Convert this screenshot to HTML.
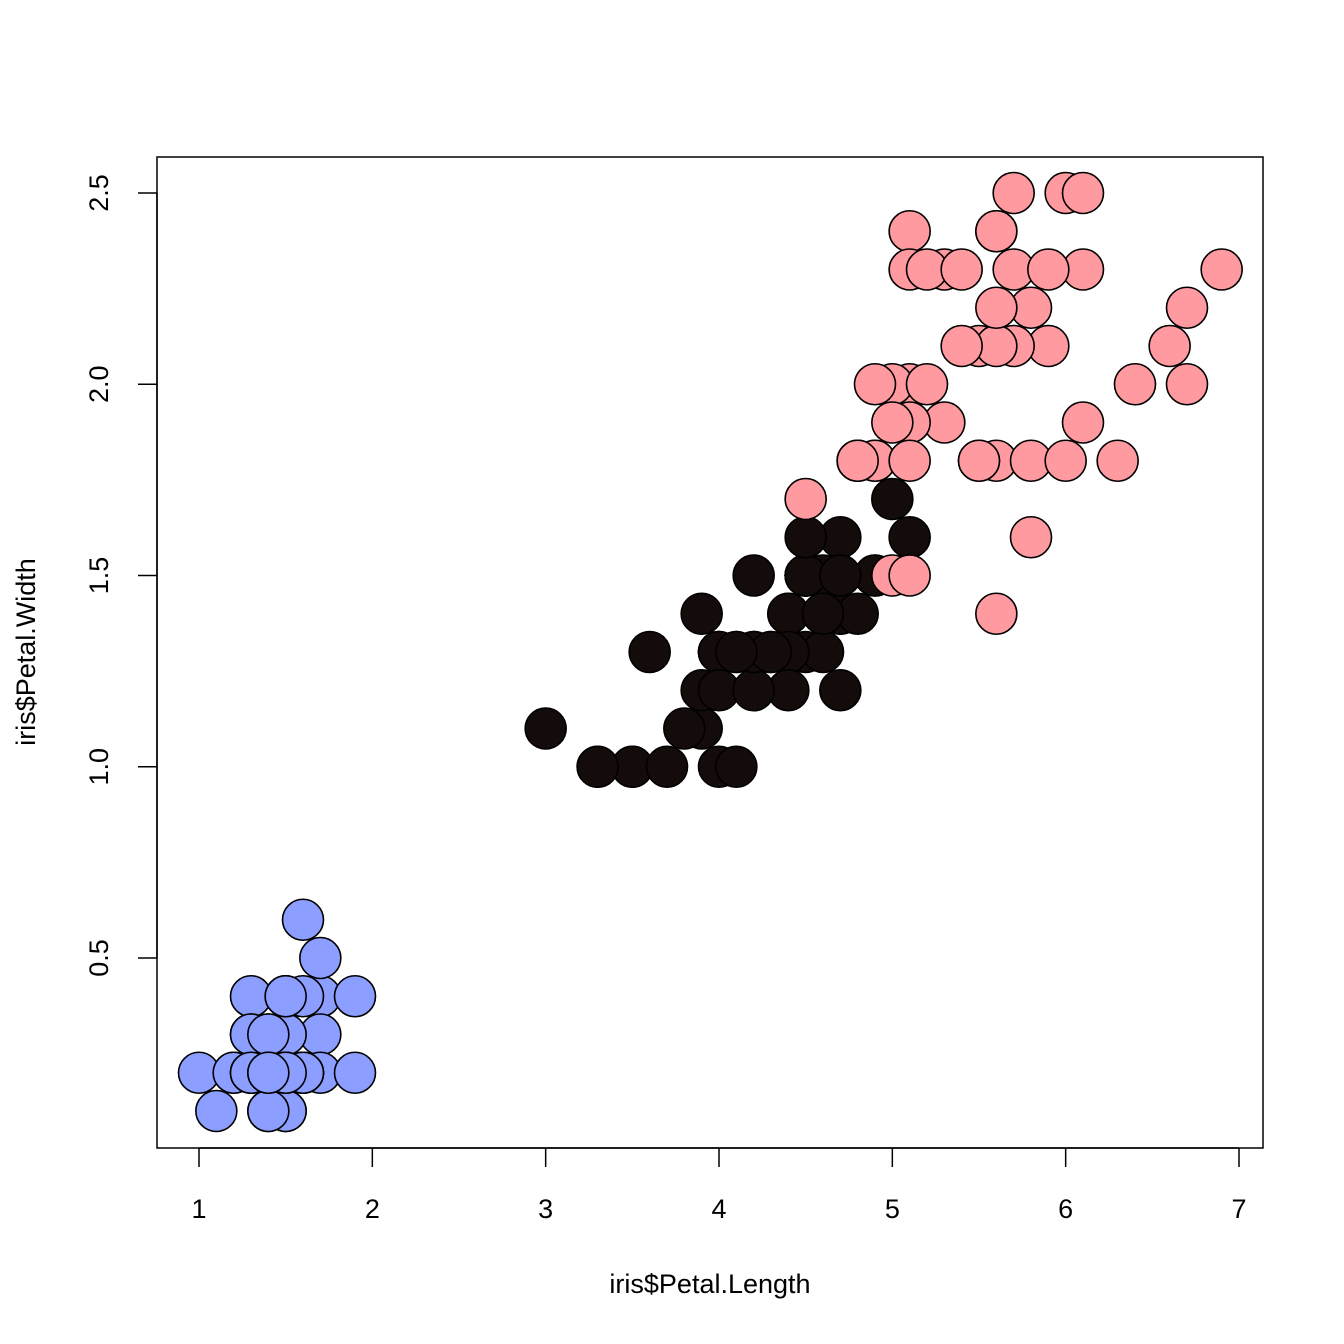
<!DOCTYPE html>
<html><head><meta charset="utf-8"><style>
html,body{margin:0;padding:0;background:#fff;}
svg{display:block;font-family:"Liberation Sans",Arial,sans-serif;}
</style></head><body>
<svg id="chart" width="1344" height="1344" viewBox="0 0 1344 1344" xmlns="http://www.w3.org/2000/svg">
<rect x="0" y="0" width="1344" height="1344" fill="#fff"/>
<g id="points"></g>
<rect x="157" y="157" width="1106" height="991" fill="none" stroke="#000" stroke-width="1.5"/>
<g id="xaxis"></g>
<g id="yaxis"></g>
<text x="710" y="1293" font-size="27" text-anchor="middle">iris$Petal.Length</text>
<text transform="translate(35,652) rotate(-90)" font-size="27" text-anchor="middle">iris$Petal.Width</text>
</svg>
<script>
const setosaLength=[1.4,1.4,1.3,1.5,1.4,1.7,1.4,1.5,1.4,1.5,1.5,1.6,1.4,1.1,1.2,1.5,1.3,1.4,1.7,1.5,1.7,1.5,1.0,1.7,1.9,1.6,1.6,1.5,1.4,1.6,1.6,1.5,1.5,1.4,1.5,1.2,1.3,1.4,1.3,1.5,1.3,1.3,1.3,1.6,1.9,1.4,1.6,1.4,1.5,1.4];
const setosaWidth=[0.2,0.2,0.2,0.2,0.2,0.4,0.3,0.2,0.2,0.1,0.2,0.2,0.1,0.1,0.2,0.4,0.4,0.3,0.3,0.3,0.2,0.4,0.2,0.5,0.2,0.2,0.4,0.2,0.2,0.2,0.2,0.4,0.1,0.2,0.2,0.2,0.2,0.1,0.2,0.2,0.3,0.3,0.2,0.6,0.4,0.3,0.2,0.2,0.2,0.2];
const versicolorLength=[4.7,4.5,4.9,4.0,4.6,4.5,4.7,3.3,4.6,3.9,3.5,4.2,4.0,4.7,3.6,4.4,4.5,4.1,4.5,3.9,4.8,4.0,4.9,4.7,4.3,4.4,4.8,5.0,4.5,3.5,3.8,3.7,3.9,5.1,4.5,4.5,4.7,4.4,4.1,4.0,4.4,4.6,4.0,3.3,4.2,4.2,4.2,4.3,3.0,4.1];
const versicolorWidth=[1.4,1.5,1.5,1.3,1.5,1.3,1.6,1.0,1.3,1.4,1.0,1.5,1.0,1.4,1.3,1.4,1.5,1.0,1.5,1.1,1.8,1.3,1.5,1.2,1.3,1.4,1.4,1.7,1.5,1.0,1.1,1.0,1.2,1.6,1.5,1.6,1.5,1.3,1.3,1.3,1.2,1.4,1.2,1.0,1.3,1.2,1.3,1.3,1.1,1.3];
const virginicaLength=[6.0,5.1,5.9,5.6,5.8,6.6,4.5,6.3,5.8,6.1,5.1,5.3,5.5,5.0,5.1,5.3,5.5,6.7,6.9,5.0,5.7,4.9,6.7,4.9,5.7,6.0,4.8,4.9,5.6,5.8,6.1,6.4,5.6,5.1,5.6,6.1,5.6,5.5,4.8,5.4,5.6,5.1,5.1,5.9,5.7,5.2,5.0,5.2,5.4,5.1];
const virginicaWidth=[2.5,1.9,2.1,1.8,2.2,2.1,1.7,1.8,1.8,2.5,2.0,1.9,2.1,2.0,2.4,2.3,1.8,2.2,2.3,1.5,2.3,2.0,2.0,1.8,2.1,1.8,1.8,1.8,2.1,1.6,1.9,2.0,2.2,1.5,1.4,2.3,2.4,1.8,1.8,2.1,2.4,2.3,1.9,2.3,2.5,2.3,1.9,2.0,2.3,1.8];
const xTicks=[1,2,3,4,5,6,7];
const yTicks=[0.5,1.0,1.5,2.0,2.5];
const yTickLabels=["0.5","1.0","1.5","2.0","2.5"];

const NS="http://www.w3.org/2000/svg";
function xs(v){return 199+(v-1)*(1040/6);}
function ys(v){return 958-(v-0.5)*382.5;}
const pts=document.getElementById('points');
function drawSeries(L,W,color,name){
  for(let i=0;i<L.length;i++){
    const c=document.createElementNS(NS,'circle');
    c.setAttribute('cx',xs(L[i]));c.setAttribute('cy',ys(W[i]));c.setAttribute('r',20.5);
    c.setAttribute('fill',color);c.setAttribute('stroke','#000');c.setAttribute('stroke-width','1.6');
    
    
    pts.appendChild(c);
  }
}
drawSeries(setosaLength,setosaWidth,'#8c9eff','setosa-point');
drawSeries(versicolorLength,versicolorWidth,'#130c0b','versicolor-point');
drawSeries(virginicaLength,virginicaWidth,'#ff9aa0','virginica-point');

const xa=document.getElementById('xaxis');
const xl=document.createElementNS(NS,'line');
xl.setAttribute('x1',xs(xTicks[0]));xl.setAttribute('x2',xs(xTicks[xTicks.length-1]));
xl.setAttribute('y1',1148);xl.setAttribute('y2',1148);xl.setAttribute('stroke','#000');xl.setAttribute('stroke-width','1.5');


xa.appendChild(xl);
xTicks.forEach(t=>{
  const l=document.createElementNS(NS,'line');
  l.setAttribute('x1',xs(t));l.setAttribute('x2',xs(t));l.setAttribute('y1',1148);l.setAttribute('y2',1167);
  l.setAttribute('stroke','#000');l.setAttribute('stroke-width','1.5');
  
  
  xa.appendChild(l);
  const tx=document.createElementNS(NS,'text');
  tx.setAttribute('x',xs(t));tx.setAttribute('y',1218);tx.setAttribute('font-size','27');tx.setAttribute('text-anchor','middle');
  tx.textContent=String(t);
  
  
  xa.appendChild(tx);
});
const ya=document.getElementById('yaxis');
const yl=document.createElementNS(NS,'line');
yl.setAttribute('x1',157);yl.setAttribute('x2',157);
yl.setAttribute('y1',ys(yTicks[0]));yl.setAttribute('y2',ys(yTicks[yTicks.length-1]));yl.setAttribute('stroke','#000');yl.setAttribute('stroke-width','1.5');


ya.appendChild(yl);
yTicks.forEach((t,i)=>{
  const l=document.createElementNS(NS,'line');
  l.setAttribute('x1',138);l.setAttribute('x2',157);l.setAttribute('y1',ys(t));l.setAttribute('y2',ys(t));
  l.setAttribute('stroke','#000');l.setAttribute('stroke-width','1.5');
  
  
  ya.appendChild(l);
  const tx=document.createElementNS(NS,'text');
  tx.setAttribute('transform','translate(108,'+ys(t)+') rotate(-90)');
  tx.setAttribute('font-size','27');tx.setAttribute('text-anchor','middle');
  tx.textContent=yTickLabels[i];
  
  
  ya.appendChild(tx);
});
</script>
</body></html>
